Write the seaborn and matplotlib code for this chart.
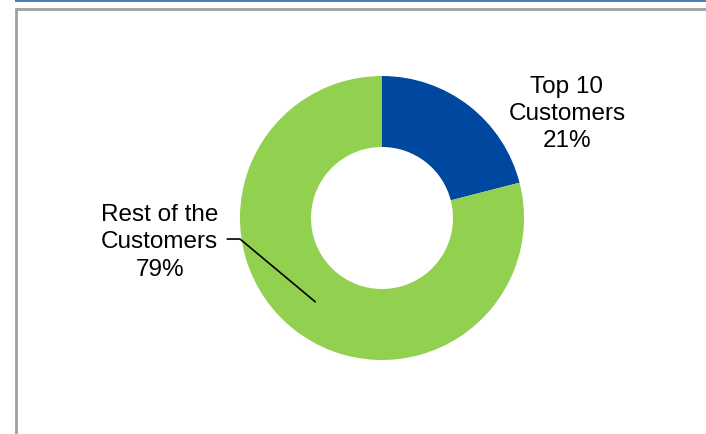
import matplotlib
matplotlib.use("Agg")
import matplotlib.pyplot as plt
from matplotlib.patches import Rectangle
from matplotlib.lines import Line2D
import seaborn as sns

# Share of revenue by customer group
segments = ["Top 10\nCustomers", "Rest of the\nCustomers"]
shares = [21, 79]
colors = ["#0047A0", "#92D050"]

sns.set_style("white")
plt.rcParams["font.family"] = ["Liberation Sans", "DejaVu Sans"]

W, H = 706, 434
fig = plt.figure(figsize=(W / 100, H / 100), dpi=100)
fig.patch.set_facecolor("white")

# Blue rule along the top edge and the grey panel frame
fig.add_artist(Rectangle((15 / W, 1 - 2 / H), 1, 2 / H, transform=fig.transFigure,
                         facecolor="#4A7EBF", edgecolor="none"))
fig.add_artist(Line2D([16 / W, 16 / W], [0, 1 - 9 / H], transform=fig.transFigure,
                      color="#A0A0A0", lw=2.0))
fig.add_artist(Line2D([16 / W, 1], [1 - 9 / H, 1 - 9 / H], transform=fig.transFigure,
                      color="#A0A0A0", lw=2.0))

# Donut centred at (382, 218) px with outer radius 142 px
cx, cy, r = 382, 218, 142
ax = fig.add_axes([(cx - r) / W, (H - cy - r) / H, 2 * r / W, 2 * r / H])
ax.pie(shares, colors=colors, startangle=90, counterclock=False, radius=1,
       wedgeprops=dict(width=0.5, edgecolor="none"))
ax.set_xlim(-1, 1)
ax.set_ylim(-1, 1)
ax.set_aspect("equal")
ax.axis("off")

labels = [f"{s}\n{v}%" for s, v in zip(segments, shares)]
ax.text(1.302, 0.735, labels[0], ha="center", va="center", fontsize=17.5,
        color="black", linespacing=1.3, clip_on=False)
ax.text(-1.565, -0.172, labels[1], ha="center", va="center", fontsize=17.5,
        color="black", linespacing=1.3, clip_on=False)

# Leader line for the larger slice
ax.add_line(Line2D([-0.47, -1.0, -1.09], [-0.59, -0.148, -0.148],
                   color="black", lw=1.2, clip_on=False))

fig.savefig("out.png", dpi=100, facecolor="white")
